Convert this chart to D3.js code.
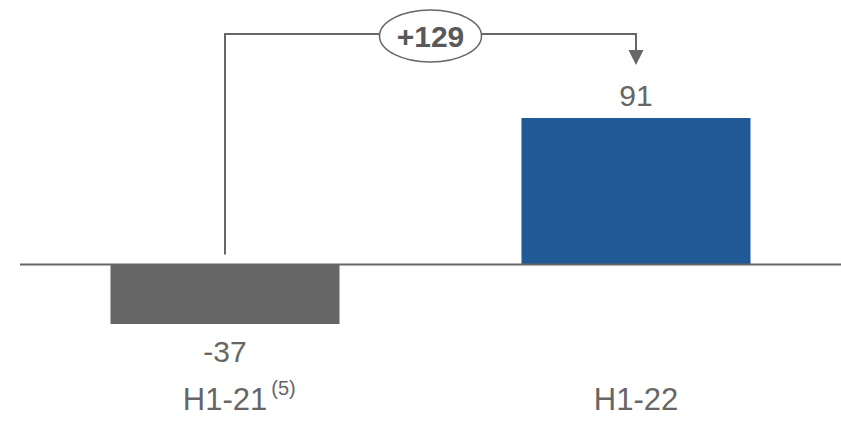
<!DOCTYPE html>
<html>
<head>
<meta charset="utf-8">
<script src="https://cdn.jsdelivr.net/npm/d3@7/dist/d3.min.js"></script>
<style>
  html, body { margin: 0; padding: 0; background: #fff; }
  svg { display: block; font-family: Arial, "Liberation Sans", sans-serif; }
</style>
</head>
<body>
<svg id="chart" width="841" height="423"></svg>
<script>
// Half-year results
const categories = ["H1-21", "H1-22"];
const footnotes = ["(5)", ""];
const values = [-37, 91];
const valueLabels = ["-37", "91"];
const barColors = ["#666666", "#1F5A96"];
const changeLabel = "+129";

const svg = d3.select("#chart");
const textColor = "#666666";

const x = d3.scaleBand()
  .domain(categories)
  .range([20, 841])
  .paddingInner(0.4428)
  .paddingOuter(0.2202);

const y = d3.scaleLinear()
  .domain([-37, 91])
  .range([324, 118]);

const y0 = y(0);

// bars
svg.selectAll("rect.bar")
  .data(values)
  .join("rect")
  .attr("class", "bar")
  .attr("x", (d, i) => x(categories[i]))
  .attr("width", x.bandwidth())
  .attr("y", d => Math.min(y(d), y0))
  .attr("height", d => Math.abs(y(d) - y0))
  .attr("fill", (d, i) => barColors[i]);

// zero line
svg.append("line")
  .attr("x1", 20).attr("x2", 841)
  .attr("y1", y0).attr("y2", y0)
  .attr("stroke", "#666666")
  .attr("stroke-width", 2);

// value labels
svg.selectAll("text.value")
  .data(values)
  .join("text")
  .attr("class", "value")
  .attr("x", (d, i) => x(categories[i]) + x.bandwidth() / 2)
  .attr("y", d => d >= 0 ? y(d) - 12 : y(d) + 38)
  .attr("text-anchor", "middle")
  .attr("font-size", 30)
  .attr("fill", textColor)
  .text((d, i) => valueLabels[i]);

// category labels
const cat = svg.selectAll("text.cat")
  .data(categories)
  .join("text")
  .attr("class", "cat")
  .attr("x", d => x(d) + x.bandwidth() / 2)
  .attr("y", 410)
  .attr("text-anchor", "middle")
  .attr("font-size", 31)
  .attr("fill", textColor);
cat.append("tspan").text(d => d);
cat.filter((d, i) => footnotes[i] !== "")
  .append("tspan")
  .attr("font-size", 20)
  .attr("dx", 4)
  .attr("dy", -15)
  .text(d => footnotes[categories.indexOf(d)]);

// keep the main label text centred on its bar when a footnote follows it
cat.filter((d, i) => footnotes[i] !== "").each(function(d) {
  const main = d3.select(this).select("tspan").node().getComputedTextLength();
  const cx = x(d) + x.bandwidth() / 2;
  d3.select(this).attr("text-anchor", "start").attr("x", cx - main / 2);
});

// change connector
const cx0 = x(categories[0]) + x.bandwidth() / 2;
const cx1 = x(categories[1]) + x.bandwidth() / 2;
const topY = 34;
const arrowTip = y(values[1]) - 53;

svg.append("path")
  .attr("d", `M${cx0},${y0 - 10} V${topY} H${cx1} V${arrowTip - 12}`)
  .attr("fill", "none")
  .attr("stroke", "#666666")
  .attr("stroke-width", 2);

svg.append("path")
  .attr("d", `M${cx1 - 7.5},${arrowTip - 15} L${cx1 + 7.5},${arrowTip - 15} L${cx1},${arrowTip} Z`)
  .attr("fill", "#666666");

const mid = (cx0 + cx1) / 2;
svg.append("ellipse")
  .attr("cx", mid).attr("cy", topY + 2)
  .attr("rx", 51).attr("ry", 26)
  .attr("fill", "#fff")
  .attr("stroke", "#666666")
  .attr("stroke-width", 1.5);

svg.append("text")
  .attr("x", mid).attr("y", topY + 13)
  .attr("text-anchor", "middle")
  .attr("font-size", 30)
  .attr("font-weight", "bold")
  .attr("fill", "#595959")
  .text(changeLabel);
</script>
</body>
</html>
